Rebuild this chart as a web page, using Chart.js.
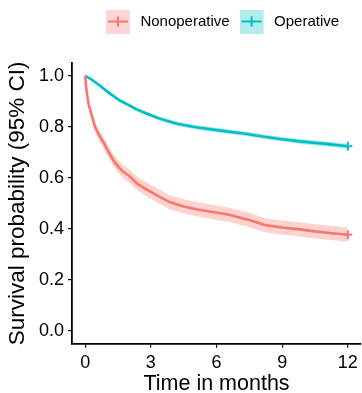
<!DOCTYPE html>
<html>
<head>
<meta charset="utf-8">
<script src="https://cdn.jsdelivr.net/npm/chart.js@4/dist/chart.umd.min.js"></script>
<style>
  html, body { margin: 0; padding: 0; background: #fff; }
  #wrap { width: 362px; height: 393px; }
</style>
</head>
<body>
<div id="wrap"><canvas id="chart"></canvas></div>
<script>
// Datos (meses, probabilidad de supervivencia)
const nonopTimes = [0, 0.05, 0.15, 0.3, 0.45, 0.65, 0.83, 1.05, 1.28, 1.5, 1.74, 2.05, 2.4, 2.8, 3.3, 3.85, 4.5, 5.2, 5.9, 6.57, 7.5, 8.2, 9.0, 9.8, 10.5, 11.3, 12];
const nonopSurv  = [1.0, 0.95, 0.89, 0.845, 0.80, 0.765, 0.74, 0.705, 0.67, 0.645, 0.624, 0.605, 0.575, 0.555, 0.53, 0.505, 0.488, 0.475, 0.465, 0.455, 0.435, 0.415, 0.405, 0.398, 0.39, 0.383, 0.377];
const nonopUpper = [1.0, 0.96, 0.905, 0.862, 0.82, 0.786, 0.762, 0.728, 0.694, 0.67, 0.65, 0.631, 0.602, 0.582, 0.558, 0.533, 0.516, 0.503, 0.493, 0.483, 0.463, 0.443, 0.433, 0.426, 0.418, 0.411, 0.405];
const nonopLower = [1.0, 0.94, 0.875, 0.828, 0.78, 0.744, 0.718, 0.682, 0.646, 0.62, 0.598, 0.579, 0.548, 0.528, 0.502, 0.477, 0.46, 0.447, 0.437, 0.427, 0.407, 0.387, 0.377, 0.37, 0.362, 0.355, 0.349];

const opTimes = [0, 0.3, 0.68, 1.1, 1.58, 2.04, 2.4, 3.0, 3.4, 4.2, 5.06, 6.1, 7.3, 8.1, 9.0, 9.9, 11.0, 12];
const opSurv  = [1.0, 0.985, 0.961, 0.932, 0.903, 0.883, 0.866, 0.845, 0.832, 0.812, 0.798, 0.786, 0.773, 0.762, 0.751, 0.742, 0.733, 0.724];
const opUpper = [1.0, 0.989, 0.967, 0.939, 0.911, 0.891, 0.874, 0.853, 0.840, 0.821, 0.807, 0.795, 0.782, 0.771, 0.760, 0.752, 0.743, 0.734];
const opLower = [1.0, 0.981, 0.955, 0.925, 0.895, 0.875, 0.858, 0.837, 0.824, 0.803, 0.789, 0.777, 0.764, 0.753, 0.742, 0.732, 0.723, 0.714];

const xTicks = [0, 3, 6, 9, 12];
const yTicks = [0, 0.2, 0.4, 0.6, 0.8, 1.0];

const RED = '#F8766D';
const TEAL = '#00BFC4';
const FONT = "'Liberation Sans', Arial, sans-serif";

const toPoints = (xs, ys) => xs.map((x, i) => ({ x: x, y: ys[i] }));

// Icono de leyenda: caja clara con línea y cruz (caja a la izquierda del lienzo)
function legendIcon(fill, color) {
    const c = document.createElement('canvas');
    c.width = 27;
    c.height = 24;
    const g = c.getContext('2d');
    g.fillStyle = fill;
    g.fillRect(0, 0, 24, 24);
    g.strokeStyle = color;
    g.lineWidth = 2;
    g.beginPath();
    g.moveTo(2, 12); g.lineTo(22, 12);
    g.moveTo(12, 7); g.lineTo(12, 17);
    g.stroke();
    return c;
}

const icons = [legendIcon('rgba(248,118,109,0.3)', RED), legendIcon('rgba(0,191,196,0.3)', TEAL)];

function censorRadius(ctx) {
    return ctx.dataIndex === ctx.dataset.data.length - 1 ? 4.5 : 0;
}

function band(xs, ys, color, fill) {
    return {
        data: toPoints(xs, ys),
        borderWidth: 0,
        borderColor: 'transparent',
        backgroundColor: color,
        pointRadius: 0,
        fill: fill
    };
}

const datasets = [
    band(nonopTimes, nonopLower, 'rgba(248,118,109,0.32)', false),
    band(nonopTimes, nonopUpper, 'rgba(248,118,109,0.32)', '-1'),
    band(opTimes, opLower, 'rgba(0,191,196,0.3)', false),
    band(opTimes, opUpper, 'rgba(0,191,196,0.3)', '-1'),
    {
        label: 'Nonoperative',
        data: toPoints(nonopTimes, nonopSurv),
        borderColor: RED,
        borderWidth: 2.6,
        pointStyle: 'cross',
        pointRadius: censorRadius,
        pointBorderWidth: 2,
        pointBorderColor: RED,
        fill: false
    },
    {
        label: 'Operative',
        data: toPoints(opTimes, opSurv),
        borderColor: TEAL,
        borderWidth: 2.6,
        pointStyle: 'cross',
        pointRadius: censorRadius,
        pointBorderWidth: 2,
        pointBorderColor: TEAL,
        fill: false
    }
];

const axisStyle = {
    grid: { display: true, drawOnChartArea: false, drawTicks: true, tickLength: 4, color: '#000', lineWidth: 1.2 },
    border: { display: true, color: '#000', width: 1.8 }
};

// Espacio extra bajo la leyenda y pequeño desplazamiento de la leyenda
const legendGap = {
    id: 'legendGap',
    beforeInit(chart) {
        const fit = chart.legend.fit;
        chart.legend.fit = function () {
            fit.call(this);
            this.height += 28;
        };
    },
    afterLayout(chart) {
        const lg = chart.legend;
        lg.left += 6;
        lg.right += 6;
        lg.top += 4;
        lg.bottom += 4;
    }
};

new Chart(document.getElementById('chart'), {
    type: 'line',
    data: { datasets: datasets },
    plugins: [legendGap],
    options: {
        responsive: true,
        maintainAspectRatio: false,
        animation: false,
        layout: { autoPadding: false, padding: { left: 4, right: 1, top: 0, bottom: 0 } },
        elements: { line: { tension: 0 } },
        scales: {
            x: {
                type: 'linear',
                min: -0.6,
                max: 12.6,
                ...axisStyle,
                afterBuildTicks: axis => { axis.ticks = xTicks.map(v => ({ value: v })); },
                afterFit: axis => { axis.paddingLeft = 0; axis.paddingRight = 0; },
                ticks: { color: '#000', font: { family: FONT, size: 18, lineHeight: 1 }, padding: 6, maxRotation: 0 },
                title: { display: true, text: 'Time in months', color: '#000', font: { family: FONT, size: 21.5, lineHeight: 0.62 }, padding: { top: 0, bottom: 2 } }
            },
            y: {
                min: -0.05,
                max: 1.05,
                ...axisStyle,
                afterBuildTicks: axis => { axis.ticks = yTicks.map(v => ({ value: v })); },
                ticks: { color: '#000', font: { family: FONT, size: 18 }, padding: 4, callback: v => v.toFixed(1) },
                title: { display: true, text: 'Survival probability (95% CI)', color: '#000', font: { family: FONT, size: 22.5 }, padding: { top: 0, bottom: 4 } }
            }
        },
        plugins: {
            legend: {
                display: true,
                position: 'top',
                fullSize: false,
                labels: {
                    color: '#000',
                    font: { family: FONT, size: 15 },
                    usePointStyle: true,
                    pointStyleWidth: 27,
                    boxHeight: 24,
                    padding: 10,
                    filter: item => item.datasetIndex >= 4,
                    generateLabels: chart => chart.data.datasets.map((ds, i) => ({
                        text: ds.label || '',
                        datasetIndex: i,
                        pointStyle: i >= 4 ? icons[i - 4] : 'line',
                        fillStyle: 'transparent',
                        strokeStyle: 'transparent',
                        lineWidth: 0,
                        fontColor: '#000'
                    }))
                }
            },
            tooltip: { enabled: false }
        }
    }
});
</script>
</body>
</html>
